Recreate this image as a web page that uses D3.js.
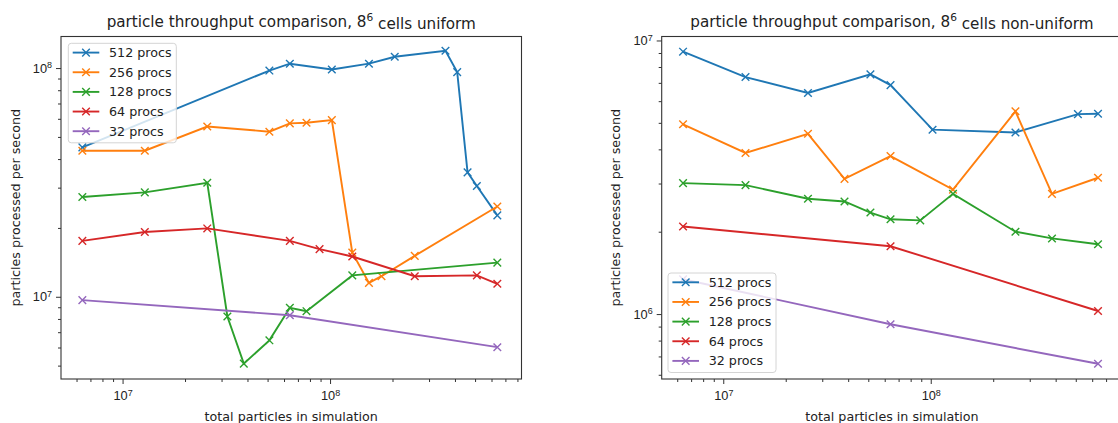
<!DOCTYPE html>
<html>
<head>
<meta charset="utf-8">
<script src="https://cdn.jsdelivr.net/npm/d3@7"></script>
<style>
  body { margin: 0; background: #fff; }
  svg { font-family: "DejaVu Sans", sans-serif; display: block; }
</style>
</head>
<body>
<div id="chart"></div>
<script>
// series names, same for both panels
const seriesNames = ["512 procs", "256 procs", "128 procs", "64 procs", "32 procs"];

// uniform panel (x = total particles, y = particles / second)
const uniX512 = [6.4e6, 5.1e7, 6.4e7, 1.02e8, 1.54e8, 2.05e8, 3.6e8, 4.1e8, 4.6e8, 5.1e8, 6.4e8];
const uniY512 = [4.5e7, 9.75e7, 1.045e8, 9.85e7, 1.045e8, 1.12e8, 1.19e8, 9.6e7, 3.5e7, 3.05e7, 2.27e7];
const uniX256 = [6.4e6, 1.28e7, 2.56e7, 5.1e7, 6.4e7, 7.7e7, 1.02e8, 1.28e8, 1.54e8, 1.77e8, 2.56e8, 6.4e8];
const uniY256 = [4.35e7, 4.35e7, 5.55e7, 5.27e7, 5.73e7, 5.77e7, 5.92e7, 1.56e7, 1.15e7, 1.23e7, 1.51e7, 2.48e7];
const uniX128 = [6.4e6, 1.28e7, 2.56e7, 3.2e7, 3.84e7, 5.1e7, 6.4e7, 7.7e7, 1.28e8, 6.4e8];
const uniY128 = [2.73e7, 2.86e7, 3.15e7, 8.2e6, 5.1e6, 6.45e6, 8.95e6, 8.65e6, 1.24e7, 1.41e7];
const uniX64 = [6.4e6, 1.28e7, 2.56e7, 6.4e7, 8.9e7, 1.28e8, 2.56e8, 5.1e8, 6.4e8];
const uniY64 = [1.755e7, 1.92e7, 1.99e7, 1.755e7, 1.615e7, 1.5e7, 1.23e7, 1.24e7, 1.14e7];
const uniX32 = [6.4e6, 6.4e7, 6.4e8];
const uniY32 = [9.67e6, 8.3e6, 6.02e6];

// non-uniform panel
const nonX512 = [6.4e6, 1.28e7, 2.56e7, 5.12e7, 6.4e7, 1.02e8, 2.56e8, 5.12e8, 6.4e8];
const nonY512 = [9.1e6, 7.35e6, 6.43e6, 7.52e6, 6.87e6, 4.72e6, 4.61e6, 5.38e6, 5.4e6];
const nonX256 = [6.4e6, 1.28e7, 2.56e7, 3.84e7, 6.4e7, 1.28e8, 2.56e8, 3.84e8, 6.4e8];
const nonY256 = [4.94e6, 3.88e6, 4.56e6, 3.12e6, 3.78e6, 2.85e6, 5.51e6, 2.75e6, 3.15e6];
const nonX128 = [6.4e6, 1.28e7, 2.56e7, 3.84e7, 5.12e7, 6.4e7, 8.9e7, 1.28e8, 2.56e8, 3.84e8, 6.4e8];
const nonY128 = [3.01e6, 2.96e6, 2.64e6, 2.58e6, 2.35e6, 2.22e6, 2.2e6, 2.75e6, 2.0e6, 1.89e6, 1.8e6];
const nonX64 = [6.4e6, 6.4e7, 6.4e8];
const nonY64 = [2.09e6, 1.77e6, 1.026e6];
const nonX32 = [6.4e6, 6.4e7, 6.4e8];
const nonY32 = [1.34e6, 9.18e5, 6.58e5];

// axis ranges and major ticks
const xDomain = [5.05e6, 8.37e8];
const xMajor = [1e7, 1e8];
const uniYDomain = [4.37e6, 1.374e8];
const uniYMajor = [1e7, 1e8];
const nonYDomain = [5.79e5, 1.034e7];
const nonYMajor = [1e6, 1e7];

const colors = ["#1f77b4", "#ff7f0e", "#2ca02c", "#d62728", "#9467bd"];
const textColor = "#222";

function zip(xs, ys) {
  return xs.map(function (x, i) { return { x: x, y: ys[i] }; });
}

function minorTicks(domain) {
  const out = [];
  for (let e = Math.floor(Math.log10(domain[0])); e <= Math.ceil(Math.log10(domain[1])); e++) {
    for (let m = 2; m <= 9; m++) {
      const v = m * Math.pow(10, e);
      if (v >= domain[0] && v <= domain[1]) out.push(v);
    }
  }
  return out;
}

function powLabel(sel) {
  sel.each(function (d) {
    const t = d3.select(this);
    t.text(null);
    t.append("tspan").text("10");
    t.append("tspan").attr("dy", "-0.5em").attr("font-size", "0.7em")
      .text(Math.round(Math.log10(d)));
  });
}

var svg = d3.select("#chart").append("svg")
  .attr("width", 1118).attr("height", 423);

function drawPanel(p) {
  var width = 460.5, height = 342.5;
  var g = svg.append("g").attr("transform", "translate(" + p.left + "," + p.top + ")");

  var x = d3.scaleLog().domain(xDomain).range([0, width]);
  var y = d3.scaleLog().domain(p.yDomain).range([height, 0]);

  // minor ticks
  g.append("g").attr("transform", "translate(0," + height + ")")
    .call(d3.axisBottom(x).tickValues(minorTicks(xDomain)).tickSize(3).tickFormat(""));
  g.append("g")
    .call(d3.axisLeft(y).tickValues(minorTicks(p.yDomain)).tickSize(3).tickFormat(""));

  // major ticks
  var xa = g.append("g").attr("transform", "translate(0," + height + ")")
    .call(d3.axisBottom(x).tickValues(xMajor).tickSize(5).tickPadding(7));
  xa.selectAll("text").attr("font-size", 12.8).attr("fill", textColor).call(powLabel);
  var ya = g.append("g")
    .call(d3.axisLeft(y).tickValues(p.yMajor).tickSize(5).tickPadding(4));
  ya.selectAll("text").attr("font-size", 12.8).attr("fill", textColor).call(powLabel);

  g.selectAll(".domain").remove();
  g.selectAll(".tick line").attr("stroke", "#333");

  var line = d3.line().x(function (d) { return x(d.x); }).y(function (d) { return y(d.y); });

  p.series.forEach(function (s, i) {
    var data = zip(s[0], s[1]);
    g.append("path").datum(data)
      .attr("fill", "none").attr("stroke", colors[i]).attr("stroke-width", 1.9)
      .attr("d", line);
    var m = g.append("g").selectAll("g").data(data).enter().append("g")
      .attr("transform", function (d) { return "translate(" + x(d.x) + "," + y(d.y) + ")"; });
    m.append("path").attr("d", "M-3.8,-3.8L3.8,3.8M-3.8,3.8L3.8,-3.8")
      .attr("stroke", colors[i]).attr("stroke-width", 1.4);
  });

  // frame
  g.append("rect").attr("width", width).attr("height", height)
    .attr("fill", "none").attr("stroke", "#333").attr("stroke-width", 1.1);

  // legend
  var lg = g.append("g").attr("transform", "translate(" + p.legend[0] + "," + p.legend[1] + ")");
  lg.append("rect").attr("width", 108).attr("height", 99.5).attr("rx", 3)
    .attr("fill", "#fff").attr("fill-opacity", 0.8).attr("stroke", "#d4d4d4");
  seriesNames.forEach(function (name, i) {
    var cy = 9.3 + i * 19.65;
    lg.append("line").attr("x1", 4.4).attr("x2", 31).attr("y1", cy).attr("y2", cy)
      .attr("stroke", colors[i]).attr("stroke-width", 1.9);
    lg.append("path")
      .attr("d", "M" + (17.7 - 3.8) + "," + (cy - 3.8) + "l7.6,7.6m-7.6,0l7.6,-7.6")
      .attr("stroke", colors[i]).attr("stroke-width", 1.4);
    lg.append("text").attr("x", 40.7).attr("y", cy).attr("dy", "0.35em")
      .attr("font-size", 12.7).attr("fill", textColor).text(name);
  });

  // title
  var title = g.append("text").attr("x", width / 2).attr("y", -10)
    .attr("text-anchor", "middle").attr("font-size", 15.2).attr("fill", textColor);
  title.append("tspan").text("particle throughput comparison, 8");
  title.append("tspan").attr("dy", "-0.5em").attr("font-size", "0.7em").text("6");
  title.append("tspan").attr("dy", "0.5em").text(p.titleEnd);

  // axis labels
  g.append("text").attr("x", width / 2).attr("y", height + 41.5)
    .attr("text-anchor", "middle").attr("font-size", 12.7).attr("fill", textColor)
    .text("total particles in simulation");
  g.append("text").attr("transform", "translate(-41.5," + height / 2 + ") rotate(-90)")
    .attr("text-anchor", "middle").attr("font-size", 12.7).attr("fill", textColor)
    .text("particles processed per second");
}

drawPanel({
  left: 61, top: 36.5,
  yDomain: uniYDomain, yMajor: uniYMajor,
  titleEnd: " cells uniform",
  legend: [7.3, 6.8],
  series: [[uniX512, uniY512], [uniX256, uniY256], [uniX128, uniY128], [uniX64, uniY64], [uniX32, uniY32]]
});

drawPanel({
  left: 661.7, top: 36.5,
  yDomain: nonYDomain, yMajor: nonYMajor,
  titleEnd: " cells non-uniform",
  legend: [6.3, 236.5],
  series: [[nonX512, nonY512], [nonX256, nonY256], [nonX128, nonY128], [nonX64, nonY64], [nonX32, nonY32]]
});
</script>
</body>
</html>
